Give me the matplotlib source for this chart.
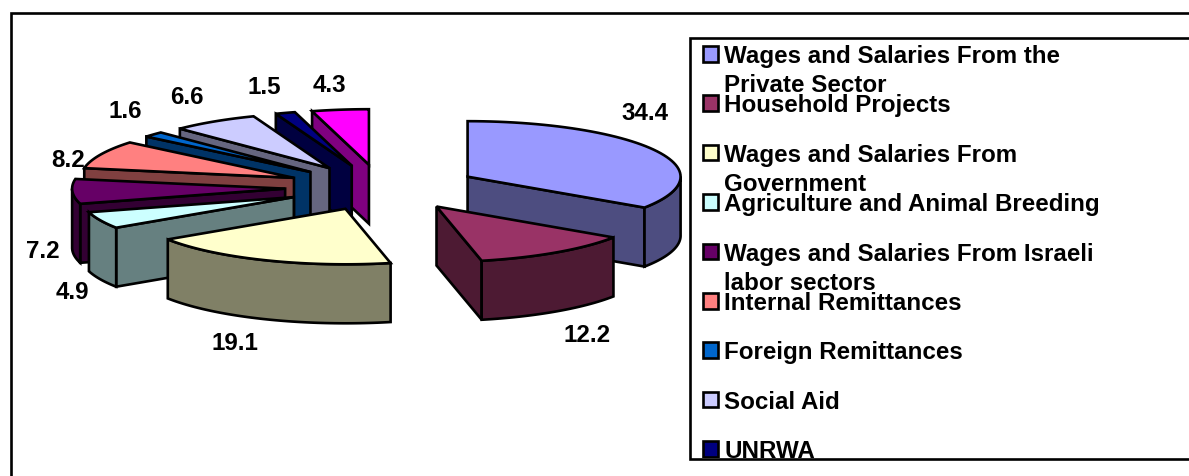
import numpy as np
import matplotlib
matplotlib.use("Agg")
import matplotlib.pyplot as plt
from matplotlib.patches import Polygon, Rectangle

values = [34.4, 12.2, 19.1, 4.9, 7.2, 8.2, 1.6, 6.6, 1.5, 4.3]
colors = ["#9999FF", "#993366", "#FFFFCC", "#CCFFFF", "#660066",
          "#FF8080", "#0066CC", "#CCCCFF", "#000080", "#FF00FF"]
legend_lines = [
    ["Wages and Salaries From the", "Private Sector"],
    ["Household Projects"],
    ["Wages and Salaries From", "Government"],
    ["Agriculture and Animal Breeding"],
    ["Wages and Salaries From Israeli", "labor sectors"],
    ["Internal Remittances"],
    ["Foreign Remittances"],
    ["Social Aid"],
    ["UNRWA"],
]
label_pos = [(645, 113), (587, 336), (235, 344), (72, 293), (43, 251),
             (68, 161), (125, 111), (187, 97), (264, 88), (329, 85)]

W, H = 1189, 477
CX, CY, RX, RY, DEPTH = 382, 188.5, 213, 55.5, 59
EX, EY = 97, 23
LW = 1.9
FONT = "Liberation Sans"
FS = 17.4

fig = plt.figure(figsize=(W / 100, H / 100), dpi=100, facecolor="white")
ax = fig.add_axes([0, 0, 1, 1])
ax.set_xlim(0, W)
ax.set_ylim(H, 0)
ax.axis("off")

# outer frame
ax.plot([10.5, 10.5, W + 5], [H + 5, 14, 14], color="black", lw=LW,
        solid_joinstyle="miter")


def rim(a1, a2, ox, oy, n=60):
    phi = np.radians(np.linspace(a1, a2, n))
    return np.column_stack([ox + RX * np.sin(phi), oy - RY * np.cos(phi)])


def draw_slice(a1, a2, color):
    mid = np.radians((a1 + a2) / 2)
    ox = CX + EX * np.sin(mid)
    oy = CY - EY * np.cos(mid)
    dark = tuple(c * 0.5 for c in matplotlib.colors.to_rgb(color))
    style = dict(edgecolor="black", lw=LW, joinstyle="miter", facecolor=dark)
    s1, s2 = np.radians(a1), np.radians(a2)
    apex = np.array([ox, oy])
    down = np.array([0, DEPTH])
    # visible side faces
    if np.sin(s1) < 0:
        p = rim(a1, a1, ox, oy, 1)[0]
        ax.add_patch(Polygon([apex, p, p + down, apex + down], **style))
    if np.sin(s2) > 0:
        p = rim(a2, a2, ox, oy, 1)[0]
        ax.add_patch(Polygon([apex, p, p + down, apex + down], **style))
    lo, hi = max(a1, 90), min(a2, 270)
    if hi > lo:
        arc = rim(lo, hi, ox, oy)
        ax.add_patch(Polygon(np.vstack([arc, (arc + down)[::-1]]), **style))
    top = np.vstack([[apex], rim(a1, a2, ox, oy)])
    ax.add_patch(Polygon(top, facecolor=color, edgecolor="black", lw=LW,
                         joinstyle="miter"))


edges = np.concatenate([[0], np.cumsum(values)]) / np.sum(values) * 360
order = [9, 8, 7, 6, 5, 4, 3, 2, 0, 1]
for i in order:
    draw_slice(edges[i], edges[i + 1], colors[i])

for v, (x, y) in zip(values, label_pos):
    ax.text(x, y, f"{v:.1f}", ha="center", va="center", fontsize=FS,
            fontweight="bold", family=FONT, color="black")

# legend
box = Rectangle((690, 38.5), W + 10 - 690, 421, facecolor="white",
                edgecolor="black", lw=LW, zorder=5)
ax.add_patch(box)
clip = Rectangle((690, 38), W + 10 - 690, 421, transform=ax.transData)
for k, lines in enumerate(legend_lines):
    base = 63 + 49.4 * k
    sw = Rectangle((702.5, base - 16), 15, 15.5, facecolor=colors[k],
                   edgecolor="black", lw=LW, zorder=6, joinstyle="miter")
    ax.add_patch(sw)
    sw.set_clip_path(clip)
    for j, line in enumerate(lines):
        t = ax.text(724, base + 29 * j, line, ha="left", va="baseline",
                    fontsize=FS, fontweight="bold", family=FONT,
                    color="black", zorder=6)
        t.set_clip_path(clip)
        t.set_clip_on(True)

fig.savefig("out.png", dpi=100, facecolor="white")
